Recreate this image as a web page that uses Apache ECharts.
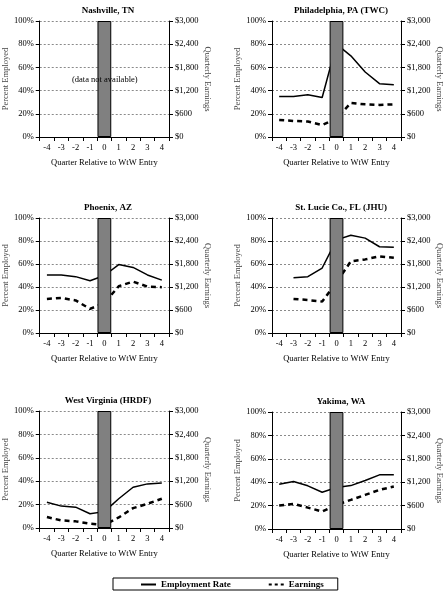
<!DOCTYPE html>
<html>
<head>
<meta charset="utf-8">
<script src="https://cdn.jsdelivr.net/npm/echarts@6/dist/echarts.min.js"></script>
<style>
  html, body { margin: 0; padding: 0; background: #fff; }
  #chart { width: 445px; height: 593px; }
</style>
</head>
<body>
<div id="chart"></div>
<script>
// ---- data ----
const quarters = ['-4', '-3', '-2', '-1', '0', '1', '2', '3', '4'];
const panelTitles = ['Nashville, TN', 'Philadelphia, PA (TWC)', 'Phoenix, AZ', 'St. Lucie Co., FL (JHU)', 'West Virginia (HRDF)', 'Yakima, WA'];
const percentTicks = [0, 20, 40, 60, 80, 100];
const earningsTicks = [0, 600, 1200, 1800, 2400, 3000];
const wtwEntryBar = [null, null, null, null, 100, null, null, null, null];

const nashvilleEmp = [null, null, null, null, null, null, null, null, null];
const nashvilleEarn = [null, null, null, null, null, null, null, null, null];
const philadelphiaEmp = [35, 35, 36.5, 34, 80, 70, 56, 46, 45];
const philadelphiaEarn = [440, 415, 400, 310, 480, 880, 845, 830, 845];
const phoenixEmp = [50.5, 50.5, 49, 45.5, 50, 59.5, 57, 50.5, 46];
const phoenixEarn = [890, 915, 850, 630, 780, 1220, 1340, 1210, 1195];
const stLucieEmp = [null, 48, 49, 56.5, 81, 85, 82.5, 75, 74.5];
const stLucieEarn = [null, 890, 860, 820, 1320, 1870, 1920, 2000, 1960];
const westVirginiaEmp = [22, 18.7, 17.8, 12.2, 14, 25, 34.8, 37.7, 38.5];
const westVirginiaEarn = [280, 195, 170, 110, 80, 270, 510, 620, 750];
const yakimaEmp = [38.3, 40.6, 36.9, 31.4, 35.5, 37.1, 41.4, 46.3, 46.3];
const yakimaEarn = [600, 643, 549, 446, 620, 746, 874, 1003, 1089];

const empSeries = [nashvilleEmp, philadelphiaEmp, phoenixEmp, stLucieEmp, westVirginiaEmp, yakimaEmp];
const earnSeries = [nashvilleEarn, philadelphiaEarn, phoenixEarn, stLucieEarn, westVirginiaEarn, yakimaEarn];

// ---- layout ----
const FONT = '"Liberation Serif", "Times New Roman", serif';
const FS = 8.5;
const panels = [
  { left: 39, top: 21, width: 130, height: 116 },
  { left: 272, top: 21, width: 130, height: 116 },
  { left: 39, top: 218, width: 130, height: 115 },
  { left: 272, top: 218, width: 130, height: 115 },
  { left: 39, top: 411, width: 130, height: 117 },
  { left: 272, top: 412, width: 130, height: 117 }
];

function money(v) {
  return '$' + String(v).replace(/\B(?=(\d{3})+(?!\d))/g, ',');
}

const grids = [], xAxes = [], yAxes = [], series = [], titles = [];
panels.forEach((p, i) => {
  grids.push({ left: p.left, top: p.top, width: p.width, height: p.height, containLabel: false });
  xAxes.push({
    type: 'category', gridIndex: i, data: quarters, boundaryGap: true,
    name: 'Quarter Relative to WtW Entry', nameLocation: 'middle', nameGap: 21,
    nameTextStyle: { fontFamily: FONT, fontSize: FS, color: '#000' },
    axisLine: { show: true, lineStyle: { color: '#000', width: 1 } },
    axisTick: { show: true, length: 4, inside: false, lineStyle: { color: '#000' } },
    axisLabel: { fontFamily: FONT, fontSize: FS, color: '#000', margin: 6, interval: 0 },
    splitLine: { show: false }
  });
  yAxes.push({
    type: 'value', gridIndex: i, position: 'left',
    min: percentTicks[0], max: percentTicks[percentTicks.length - 1], interval: percentTicks[1] - percentTicks[0],
    name: 'Percent Employed', nameLocation: 'middle', nameGap: 23, nameRotate: 90,
    nameTextStyle: { fontFamily: FONT, fontSize: FS, color: '#444' },
    axisLine: { show: true, lineStyle: { color: '#000', width: 1 } },
    axisTick: { show: true, length: 4, lineStyle: { color: '#000' } },
    axisLabel: { fontFamily: FONT, fontSize: FS, color: '#000', margin: 6, formatter: '{value}%' },
    splitLine: { show: true, lineStyle: { color: '#8a8a8a', type: [2, 2], width: 1 } }
  });
  yAxes.push({
    type: 'value', gridIndex: i, position: 'right',
    min: earningsTicks[0], max: earningsTicks[earningsTicks.length - 1], interval: earningsTicks[1] - earningsTicks[0],
    name: 'Quarterly Earnings', nameLocation: 'middle', nameGap: 34, nameRotate: -90,
    nameTextStyle: { fontFamily: FONT, fontSize: FS, color: '#444' },
    axisLine: { show: true, lineStyle: { color: '#000', width: 1 } },
    axisTick: { show: true, length: 4, lineStyle: { color: '#000' } },
    axisLabel: { fontFamily: FONT, fontSize: FS, color: '#000', margin: 6, formatter: money },
    splitLine: { show: false }
  });
  titles.push({
    text: panelTitles[i], left: p.left + p.width / 2 - 1, top: p.top - 20, textAlign: 'center',
    textStyle: { fontFamily: FONT, fontSize: 9, fontWeight: 'bold', color: '#000' }
  });
  series.push({
    name: 'Employment Rate', type: 'line', xAxisIndex: i, yAxisIndex: 2 * i,
    data: empSeries[i], symbol: 'none', showSymbol: false, connectNulls: false,
    lineStyle: { color: '#000', width: 1.5, type: 'solid' }, itemStyle: { color: '#000' }, z: 2
  });
  series.push({
    name: 'Earnings', type: 'line', xAxisIndex: i, yAxisIndex: 2 * i + 1,
    data: earnSeries[i], symbol: 'none', showSymbol: false, connectNulls: false,
    lineStyle: { color: '#000', width: 2.5, type: [5, 4] }, itemStyle: { color: '#000' }, z: 2
  });
  series.push({
    name: 'WtW Entry', type: 'bar', xAxisIndex: i, yAxisIndex: 2 * i,
    data: wtwEntryBar, barWidth: '96%', silent: true,
    itemStyle: { color: '#808080', borderColor: '#000', borderWidth: 1 }, z: 4
  });
});

const chart = echarts.init(document.getElementById('chart'), null, { renderer: 'canvas' });
chart.setOption({
  animation: false,
  backgroundColor: '#fff',
  title: titles,
  grid: grids,
  xAxis: xAxes,
  yAxis: yAxes,
  series: series,
  legend: {
    data: [
      { name: 'Employment Rate', icon: 'path://M0,0h15v2h-15z' },
      { name: 'Earnings', icon: 'path://M0,0h3v2h-3z M6,0h3v2h-3z M12,0h3v2h-3z' }
    ],
    left: 113, top: 578,
    padding: [2, 14, 1, 28],
    borderColor: '#000', borderWidth: 1,
    itemWidth: 15, itemHeight: 2,
    itemGap: 38,
    itemStyle: { color: '#000', borderWidth: 0 },
    lineStyle: { width: 0, opacity: 0 },
    textStyle: { fontFamily: FONT, fontSize: 9, fontWeight: 'bold', color: '#000' }
  },
  graphic: [{
    type: 'text', left: 72, top: 75, z: 10,
    style: { text: '(data not available)', fontFamily: FONT, fontSize: FS, fill: '#000' }
  }]
});
</script>
</body>
</html>
